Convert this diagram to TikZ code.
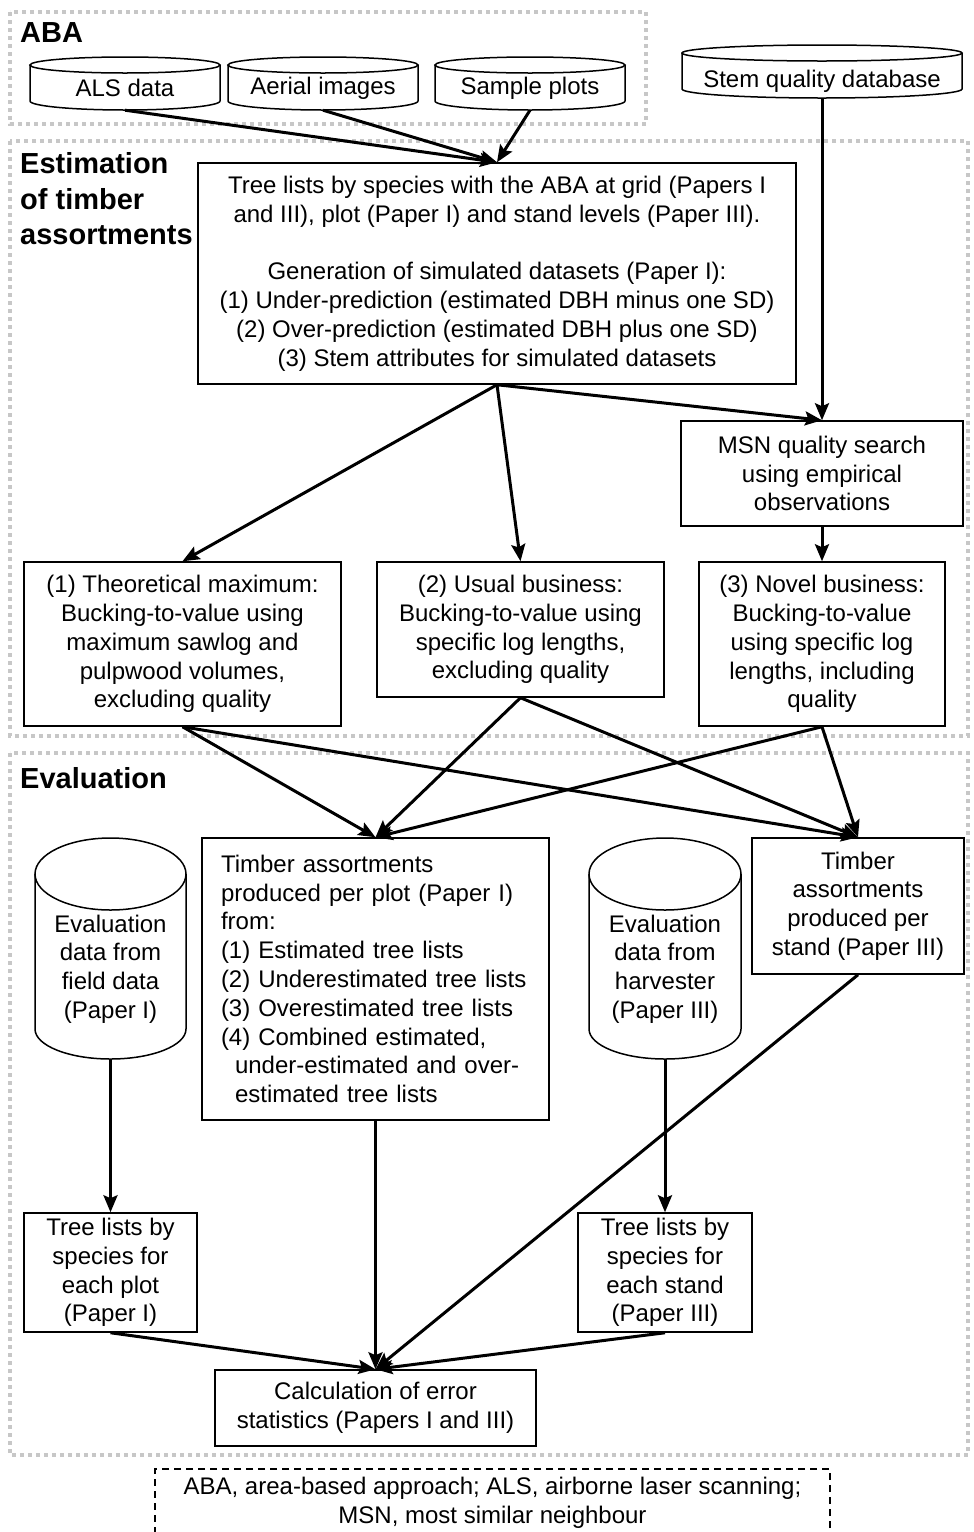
\documentclass[tikz,border=0pt]{standalone}
\usepackage{fontspec}
\setmainfont{Liberation Sans}
\usetikzlibrary{arrows.meta}
\newcommand{\mycyl}[6]{%
  \draw[cylline] (#1-#4,-#2-#5) -- (#1-#4,-#3+#6)
     arc[start angle=180,end angle=360,x radius=#4,y radius=#6] -- (#1+#4,-#2-#5);
  \draw[cylline] (#1,-#2-#5) ellipse[x radius=#4,y radius=#5];
}
\begin{document}
\begin{tikzpicture}[x=1pt,y=1pt,
  every node/.style={font=\fontsize{24}{28.8}\selectfont, inner sep=0pt},
  box/.style={draw, line width=1.5pt, align=center},
  lbl/.style={font=\fontsize{29}{35.5}\selectfont\bfseries, anchor=west, align=left},
  region/.style={draw=black!22, line width=4pt, dash pattern=on 4pt off 4pt},
  arr/.style={line width=3pt, -{Stealth[length=17pt,width=14pt,inset=3pt]}},
  cylline/.style={line width=1.5pt}
]
\useasboundingbox (0,0) rectangle (974,-1532);

% regions
\draw[region] (10,-12) rectangle (646,-124);
\draw[region] (10,-141) rectangle (968,-736);
\draw[region] (10,-753) rectangle (968,-1455);

% labels
\node[lbl] (labA) at (20,-33) {ABA};
\node[lbl] (labE) at (20,-199) {Estimation\\of timber\\assortments};
\node[lbl] (labV) at (20,-778) {Evaluation};

% top cylinders
\mycyl{125}{57}{110}{95}{8}{9}
\node[minimum width=190pt, minimum height=53pt] (als) at (125,-83.5) {};
\node (alst) at (125,-88) {ALS data};
\mycyl{323}{57}{110}{95}{8}{9}
\node[minimum width=190pt, minimum height=53pt] (aer) at (323,-83.5) {};
\node (aert) at (323,-88) {Aerial images};
\mycyl{530}{57}{110}{95}{8}{9}
\node[minimum width=190pt, minimum height=53pt] (smp) at (530,-83.5) {};
\node (smpt) at (530,-88) {Sample plots};
\mycyl{822}{45}{98}{140}{8}{9}
\node[minimum width=280pt, minimum height=53pt] (stem) at (822,-71.5) {};
\node (stemt) at (822,-81) {Stem quality database};

% main box
\node[box, minimum width=598pt, minimum height=221pt] (main) at (497,-273.5)
 {Tree lists by species with the ABA at grid (Papers I\\
  and III), plot (Paper I) and stand levels (Paper III).\\[28.8pt]
  Generation of simulated datasets (Paper I):\\
  (1) Under-prediction (estimated DBH minus one SD)\\
  (2) Over-prediction (estimated DBH plus one SD)\\
  (3) Stem attributes for simulated datasets};

\node[box, minimum width=282pt, minimum height=105pt] (msn) at (822,-473.5)
 {MSN quality search\\using empirical\\observations};

\node[box, minimum width=317pt, minimum height=164pt] (b1) at (182.5,-644)
 {(1) Theoretical maximum:\\Bucking-to-value using\\maximum sawlog and\\pulpwood volumes,\\excluding quality};
\node[box, minimum width=287pt, minimum height=135pt] (b2) at (520.5,-629.5)
 {(2) Usual business:\\Bucking-to-value using\\specific log lengths,\\excluding quality};
\node[box, minimum width=246pt, minimum height=164pt] (b3) at (822,-644)
 {(3) Novel business:\\Bucking-to-value\\using specific log\\lengths, including\\quality};

% evaluation
\mycyl{110.5}{838}{1059}{75.5}{36}{30}
\node[minimum width=151pt, minimum height=221pt] (cylL) at (110.5,-948.5) {};
\node[align=center] (cylLt) at (110.5,-969) {Evaluation\\data from\\field data\\(Paper I)};
\mycyl{665}{838}{1059}{76}{36}{30}
\node[minimum width=152pt, minimum height=221pt] (cylR) at (665,-948.5) {};
\node[align=center] (cylRt) at (665,-969) {Evaluation\\data from\\harvester\\(Paper III)};

\node[draw, line width=1.5pt, align=left, minimum width=347pt, minimum height=282pt,
      text width=309pt] (tplot) at (375.5,-979)
 {Timber assortments\\
  produced per plot (Paper I)\\
  from:\\
  (1) Estimated tree lists\\
  (2) Underestimated tree lists\\
  (3) Overestimated tree lists\\
  (4) Combined estimated,\\
  \hspace*{14pt}under-estimated and over-\\
  \hspace*{14pt}estimated tree lists};

\node[box, minimum width=212pt, minimum height=136pt] (tstand) at (858,-906)
 {Timber\\assortments\\produced per\\stand (Paper III)};

\node[box, minimum width=173pt, minimum height=119pt] (tlp) at (110.5,-1272.5)
 {Tree lists by\\species for\\each plot\\(Paper I)};
\node[box, minimum width=174pt, minimum height=119pt] (tls) at (665,-1272.5)
 {Tree lists by\\species for\\each stand\\(Paper III)};

\node[box, minimum width=321pt, minimum height=76pt] (calc) at (375.5,-1408)
 {Calculation of error\\statistics (Papers I and III)};

\node[draw, line width=1.5pt, dash pattern=on 7pt off 5pt, align=center,
      minimum width=675pt, minimum height=68pt] (legend) at (492.5,-1503)
 {ABA, area-based approach; ALS, airborne laser scanning;\\MSN, most similar neighbour};

% arrows
\draw[arr] (als.south) -- (main.north);
\draw[arr] (aer.south) -- (main.north);
\draw[arr] (smp.south) -- (main.north);
\draw[arr] (stem.south) -- (msn.north);
\draw[arr] (main.south) -- (msn.north);
\draw[arr] (main.south) -- (b1.north);
\draw[arr] (main.south) -- (b2.north);
\draw[arr] (msn.south) -- (b3.north);
\draw[arr] (b1.south) -- (tplot.north);
\draw[arr] (b1.south) -- (tstand.north);
\draw[arr] (b2.south) -- (tplot.north);
\draw[arr] (b2.south) -- (tstand.north);
\draw[arr] (b3.south) -- (tplot.north);
\draw[arr] (b3.south) -- (tstand.north);
\draw[arr] (cylL.south) -- (tlp.north);
\draw[arr] (cylR.south) -- (tls.north);
\draw[arr] (tlp.south) -- (calc.north);
\draw[arr] (tplot.south) -- (calc.north);
\draw[arr] (tls.south) -- (calc.north);
\draw[arr] (tstand.south) -- (calc.north);
\end{tikzpicture}
\end{document}
